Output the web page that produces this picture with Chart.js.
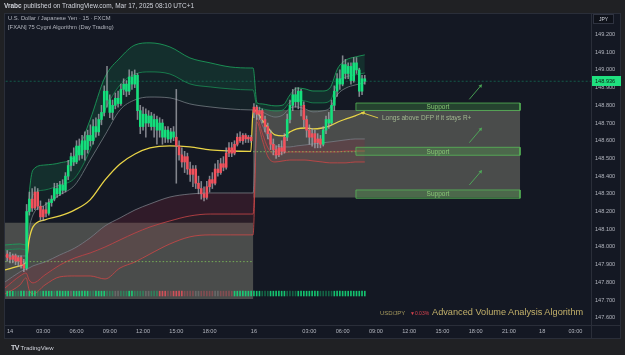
<!DOCTYPE html>
<html lang="en">
<head>
<meta charset="utf-8">
<title>USD/JPY 15m – 75 Cygni Algorithm</title>
<script src="https://cdn.jsdelivr.net/npm/chart.js@4.4.1/dist/chart.umd.min.js"></script>
<style>
  html, body { margin: 0; padding: 0; }
  body {
    width: 625px; height: 355px; position: relative; overflow: hidden;
    background: #202124;
    font-family: 'Liberation Sans', Arial, sans-serif;
  }
  #panel { position: absolute; left: 4px; top: 13px; width: 617px; height: 326px;
           background: #141823; border: 1px solid #2a2e39; box-sizing: border-box; }
  .sep   { position: absolute; background: #2a2e39; }
  #chart { position: absolute; left: 0; top: 0; }
  .txt   { position: absolute; white-space: nowrap; line-height: 1; }
</style>
</head>
<body>
<div id="panel"></div>
<div class="sep" style="left:591px;top:13px;width:1px;height:326px"></div>
<div class="sep" style="left:4px;top:325px;width:617px;height:1px"></div>
<canvas id="chart" width="625" height="355"></canvas>

<div class="txt" style="left:4px;top:3px;font-size:6.5px;color:#d1d4dc"><b>Vrabc</b> published on TradingView.com, Mar 17, 2025 08:10 UTC+1</div>
<div class="txt" style="left:8px;top:16px;font-size:5.8px;color:#b2b5be">U.S. Dollar / Japanese Yen · 15 · FXCM</div>
<div class="txt" style="left:8px;top:25px;font-size:5.8px;color:#b2b5be">[FXAN] 75 Cygni Algorithm (Day Trading)</div>
<div class="txt" style="left:593px;top:14px;width:21px;height:10px;box-sizing:border-box;border:1px solid #2f3340;background:#0f121a;color:#d1d4dc;font-size:5px;text-align:center;line-height:8px">JPY</div>
<div class="txt" style="left:380px;top:310px;font-size:6px;color:#a89b5e">USD/JPY</div>
<div class="txt" style="left:410px;top:311px;font-size:5px;color:#d9434f">▼0.03%</div>
<div class="txt" style="left:432px;top:308px;font-size:9.2px;color:#c2b06a">Advanced Volume Analysis Algorithm</div>
<div class="txt" style="left:11px;top:344px;font-size:6px;color:#d1d4dc"><b style="font-size:7px;letter-spacing:-0.5px">TV</b> TradingView</div>

<script>
'use strict';

/* ── SCALES ─────────────────────────────────────────────── */
const priceTicks = [147.6, 147.7, 147.8, 147.9, 148.0, 148.1, 148.2, 148.3,
                    148.4, 148.5, 148.6, 148.7, 148.8, 148.9, 149.0, 149.1, 149.2];
const timeTicks  = [0, 12, 24, 36, 48, 60, 72, 88, 108, 120, 132, 144, 156, 168, 180, 192, 204];
const timeLabels = ['14', '03:00', '06:00', '09:00', '12:00', '15:00', '18:00', '16',
                    '03:00', '06:00', '09:00', '12:00', '15:00', '18:00', '21:00', '18', '03:00'];

/* ── 15m CANDLES (bar index starts at -1) ────────────────── */
const FIRST_BAR = -1;
const opens = [
  147.96, 147.94, 147.93, 147.95, 147.92, 147.94, 147.90, 147.88, 148.20, 148.27,
  148.22, 148.31, 148.23, 148.17, 148.21, 148.19, 148.25, 148.27, 148.33, 148.30,
  148.35, 148.32, 148.40, 148.46, 148.51, 148.48, 148.57, 148.52, 148.60, 148.55,
  148.63, 148.60, 148.68, 148.65, 148.72, 148.76, 148.88, 148.83, 148.76, 148.80,
  148.84, 148.81, 148.89, 148.92, 148.88, 148.96, 148.92, 148.97, 148.77, 148.68,
  148.75, 148.70, 148.74, 148.68, 148.72, 148.66, 148.70, 148.62, 148.66, 148.61,
  148.65, 148.62, 148.57, 148.52, 148.48, 148.51, 148.44, 148.41, 148.44, 148.36,
  148.33, 148.30, 148.28, 148.34, 148.38, 148.36, 148.44, 148.42, 148.47, 148.45,
  148.53, 148.56, 148.53, 148.58, 148.62, 148.60, 148.63, 148.61, 148.62, 148.76,
  148.79, 148.75, 148.77, 148.72, 148.68, 148.64, 148.58, 148.55, 148.52, 148.56,
  148.54, 148.62, 148.72, 148.80, 148.86, 148.82, 148.88, 148.80, 148.72, 148.66,
  148.62, 148.64, 148.59, 148.61, 148.58, 148.66, 148.72, 148.70, 148.80, 148.88,
  148.95, 148.92, 149.03, 148.98, 149.02, 148.94, 149.04, 149.00, 148.88, 148.95
];
const highs = [
  147.98, 147.97, 147.96, 147.96, 147.95, 147.95, 147.93, 148.24, 148.31, 148.33,
  148.34, 148.33, 148.26, 148.23, 148.25, 148.27, 148.29, 148.36, 148.36, 148.37,
  148.38, 148.42, 148.49, 148.53, 148.56, 148.60, 148.61, 148.63, 148.65, 148.66,
  148.69, 148.72, 148.73, 148.75, 148.80, 148.91, 149.02, 148.86, 148.83, 148.87,
  148.88, 148.92, 148.95, 148.94, 149.00, 148.99, 149.00, 148.98, 148.80, 148.79,
  148.78, 148.77, 148.76, 148.75, 148.74, 148.73, 148.72, 148.68, 148.68, 148.67,
  148.68, 148.89, 148.60, 148.56, 148.54, 148.53, 148.48, 148.46, 148.46, 148.40,
  148.37, 148.34, 148.37, 148.40, 148.42, 148.47, 148.49, 148.50, 148.51, 148.56,
  148.59, 148.59, 148.60, 148.64, 148.65, 148.64, 148.64, 148.63, 148.63, 148.81,
  148.80, 148.79, 148.78, 148.74, 148.70, 148.66, 148.61, 148.57, 148.58, 148.60,
  148.64, 148.75, 148.83, 148.89, 148.90, 148.90, 148.89, 148.82, 148.74, 148.69,
  148.67, 148.66, 148.64, 148.63, 148.68, 148.74, 148.76, 148.83, 148.91, 148.98,
  149.00, 149.08, 149.06, 149.04, 149.04, 149.07, 149.07, 149.01, 148.97, 148.97
];
const lows = [
  147.92, 147.91, 147.91, 147.90, 147.89, 147.88, 147.86, 147.87, 148.18, 148.20,
  148.21, 148.21, 148.15, 148.15, 148.17, 148.18, 148.23, 148.26, 148.28, 148.29,
  148.30, 148.31, 148.38, 148.43, 148.46, 148.47, 148.49, 148.50, 148.49, 148.53,
  148.57, 148.58, 148.62, 148.63, 148.69, 148.74, 148.79, 148.73, 148.72, 148.78,
  148.79, 148.80, 148.86, 148.85, 148.86, 148.89, 148.90, 148.72, 148.64, 148.66,
  148.62, 148.68, 148.66, 148.62, 148.58, 148.62, 148.58, 148.59, 148.59, 148.59,
  148.60, 148.36, 148.49, 148.45, 148.42, 148.41, 148.37, 148.34, 148.33, 148.30,
  148.27, 148.26, 148.27, 148.31, 148.33, 148.35, 148.40, 148.41, 148.43, 148.44,
  148.51, 148.51, 148.52, 148.57, 148.59, 148.58, 148.59, 148.59, 148.59, 148.73,
  148.72, 148.72, 148.70, 148.65, 148.61, 148.55, 148.52, 148.50, 148.51, 148.52,
  148.53, 148.60, 148.70, 148.77, 148.79, 148.78, 148.74, 148.68, 148.62, 148.58,
  148.57, 148.56, 148.56, 148.56, 148.57, 148.64, 148.67, 148.69, 148.77, 148.85,
  148.89, 148.91, 148.95, 148.95, 148.92, 148.93, 148.98, 148.85, 148.86, 148.92
];
const closes = [
  147.94, 147.93, 147.95, 147.92, 147.94, 147.90, 147.88, 148.20, 148.27, 148.22,
  148.31, 148.23, 148.17, 148.21, 148.19, 148.25, 148.27, 148.33, 148.30, 148.35,
  148.32, 148.40, 148.46, 148.51, 148.48, 148.57, 148.52, 148.60, 148.55, 148.63,
  148.60, 148.68, 148.65, 148.72, 148.76, 148.88, 148.83, 148.76, 148.80, 148.84,
  148.81, 148.89, 148.92, 148.88, 148.96, 148.92, 148.97, 148.77, 148.68, 148.75,
  148.70, 148.74, 148.68, 148.72, 148.66, 148.70, 148.62, 148.66, 148.61, 148.65,
  148.62, 148.57, 148.52, 148.48, 148.51, 148.44, 148.41, 148.44, 148.36, 148.33,
  148.30, 148.28, 148.34, 148.38, 148.36, 148.44, 148.42, 148.47, 148.45, 148.53,
  148.56, 148.53, 148.58, 148.62, 148.60, 148.63, 148.61, 148.62, 148.60, 148.79,
  148.75, 148.77, 148.72, 148.68, 148.64, 148.58, 148.55, 148.52, 148.56, 148.54,
  148.62, 148.72, 148.80, 148.86, 148.82, 148.88, 148.80, 148.72, 148.66, 148.62,
  148.64, 148.59, 148.61, 148.58, 148.66, 148.72, 148.70, 148.80, 148.88, 148.95,
  148.92, 149.03, 148.98, 149.02, 148.94, 149.04, 149.00, 148.88, 148.95, 148.936
];
// algorithm bar colouring, run-length: [tone, bars]
const candleTrend = [['r', 7], ['g', 2], ['r', 6], ['g', 46], ['r', 40], ['g', 6], ['r', 7], ['g', 16]];
// volume strip under price: G/g green strong/weak, R/r red strong/weak, n neutral
const volumeTone = [['G', 3], ['g', 2], ['G', 2], ['n', 1], ['G', 3], ['g', 2], ['G', 4], ['g', 1],
                    ['G', 5], ['n', 1], ['G', 6], ['g', 2], ['G', 4], ['g', 3], ['n', 2], ['g', 3],
                    ['G', 2], ['g', 4], ['n', 2], ['g', 3], ['R', 3], ['r', 2], ['R', 4], ['r', 4],
                    ['n', 2], ['r', 5], ['n', 2], ['r', 5], ['G', 10], ['g', 3], ['G', 6], ['g', 4],
                    ['G', 8], ['g', 5], ['G', 12]];

/* ── SESSION VWAP + DEVIATION BANDS (sampled at bar positions) ── */
const bandBars = [-1.8, 3.6, 5.8, 6.9, 8.3, 12.6, 18.0, 23.4, 28.9, 34.3, 39.7, 45.1, 50.5, 57.7,
                  64.9, 72.2, 79.4, 86.9, 87.7, 89.1, 91.0, 93.1, 95.6, 98.5, 101.0, 103.5, 106.4,
                  109.3, 112.6, 115.4, 118.3, 121.2, 124.5, 128.0];
const vwap   = [147.870, 147.893, 147.915, 148.040, 148.113, 148.153, 148.175, 148.209, 148.266,
                148.379, 148.469, 148.525, 148.559, 148.571, 148.565, 148.548, 148.542, 148.540,
                148.774, 148.763, 148.718, 148.672, 148.633, 148.627, 148.650, 148.667, 148.672,
                148.667, 148.672, 148.684, 148.706, 148.723, 148.740, 148.763];
const upper3 = [148.011, 148.017, 148.011, 148.294, 148.435, 148.463, 148.475, 148.514, 148.718,
                148.960, 149.068, 149.141, 149.153, 149.130, 149.068, 149.040, 149.017, 149.011,
                149.011, 148.814, 148.808, 148.802, 148.797, 148.802, 148.859, 148.898, 148.893,
                148.881, 148.881, 148.898, 149.011, 149.056, 149.073, 149.085];
const upper2 = [147.983, 147.989, 147.983, 148.181, 148.294, 148.322, 148.350, 148.390, 148.548,
                148.774, 148.915, 148.977, 148.989, 148.977, 148.921, 148.904, 148.893, 148.887,
                148.887, 148.791, 148.780, 148.774, 148.768, 148.774, 148.819, 148.831, 148.825,
                148.814, 148.814, 148.825, 148.932, 148.960, 148.972, 148.983];
const upper1 = [147.949, 147.949, 147.949, 148.096, 148.181, 148.237, 148.294, 148.350, 148.491,
                148.633, 148.774, 148.831, 148.847, 148.842, 148.808, 148.791, 148.780, 148.774,
                148.774, 148.774, 148.763, 148.746, 148.734, 148.746, 148.785, 148.791, 148.780,
                148.763, 148.768, 148.785, 148.864, 148.898, 148.915, 148.927];
const lower1 = [147.802, 147.859, 147.876, 147.881, 147.893, 147.915, 147.955, 147.994, 148.051,
                148.119, 148.164, 148.209, 148.243, 148.282, 148.299, 148.305, 148.305, 148.305,
                148.305, 148.751, 148.689, 148.616, 148.576, 148.565, 148.565, 148.571, 148.576,
                148.582, 148.588, 148.593, 148.599, 148.605, 148.610, 148.610];
const lower2 = [147.768, 147.836, 147.853, 147.814, 147.797, 147.842, 147.898, 147.938, 147.966,
                148.000, 148.040, 148.079, 148.113, 148.147, 148.175, 148.186, 148.186, 148.186,
                148.186, 148.729, 148.644, 148.559, 148.520, 148.531, 148.537, 148.537, 148.537,
                148.537, 148.537, 148.537, 148.537, 148.542, 148.542, 148.542];
const lower3 = [147.734, 147.785, 147.825, 147.757, 147.734, 147.785, 147.831, 147.836, 147.836,
                147.819, 147.881, 147.915, 147.960, 148.017, 148.057, 148.068, 148.068, 148.068,
                148.068, 148.706, 148.605, 148.508, 148.480, 148.486, 148.491, 148.491, 148.491,
                148.486, 148.480, 148.475, 148.475, 148.475, 148.480, 148.480];

/* ── DRAWINGS ───────────────────────────────────────────── */
const grayZones    = [{ from: -3, to: 87.7, top: 148.136, bottom: 147.706 },
                      { from: 87.7, to: 184, top: 148.774, bottom: 148.280 }];
const supportZones = [{ from: 124.8, to: 184, top: 148.813, bottom: 148.771 },
                      { from: 124.8, to: 184, top: 148.563, bottom: 148.518 },
                      { from: 124.8, to: 184, top: 148.322, bottom: 148.275 }];
const dfpLevels    = [{ from: -3, to: 87.7, price: 147.917 },
                      { from: 87.7, to: 124.8, price: 148.538 }];
const upArrows     = [{ x0: 165.7, y0: 148.834, x1: 169.8, y1: 148.910 },
                      { x0: 165.7, y0: 148.589, x1: 169.8, y1: 148.665 },
                      { x0: 165.7, y0: 148.350, x1: 169.8, y1: 148.425 }];
const noteArrow    = { x0: 132.8, y0: 148.729, x1: 127.3, y1: 148.757 };
const noteAnchor   = { x: 134.2, y: 148.729 };
const noteText     = 'Longs above DFP if it stays R+';
const supportText  = 'Support';
const volumeBand   = [147.723, 147.750];

/* ── HELPERS ────────────────────────────────────────────── */
const expandRuns = runs => runs.flatMap(([tone, n]) => Array(n).fill(tone));
const pts = (xs, ys) => xs.map((x, i) => ({ x, y: ys[i] }));

const GREEN = '#14e07c', RED = '#f2515c', WICK = 'rgba(168,170,178,0.75)';
const toneColor = { G: 'rgba(20,224,124,0.85)', g: 'rgba(20,190,110,0.45)', n: 'rgba(140,140,140,0.45)',
                    R: 'rgba(242,81,92,0.80)', r: 'rgba(200,80,90,0.45)' };

const trend = expandRuns(candleTrend);
const vTone = expandRuns(volumeTone);
const barX  = opens.map((_, i) => i + FIRST_BAR);

const bandLine = (label, ys, color, fill, bg) => ({
  type: 'line', label, data: pts(bandBars, ys),
  borderColor: color, borderWidth: 1, pointRadius: 0,
  cubicInterpolationMode: 'monotone', fill: fill || false, backgroundColor: bg || 'transparent', order: 8
});

const zoneShape = (z, fillColor, lineColor, order) => ({
  type: 'line',
  data: [{ x: z.from, y: z.top }, { x: z.to, y: z.top }, { x: z.to, y: z.bottom },
         { x: z.from, y: z.bottom }, { x: z.from, y: z.top }],
  fill: 'shape', backgroundColor: fillColor, borderColor: lineColor, borderWidth: 1,
  pointRadius: 0, tension: 0, order
});

const arrowHeading = ctx => {
  const { x, y } = ctx.chart.scales;
  const d = ctx.dataset.data;
  const dx = x.getPixelForValue(d[1].x) - x.getPixelForValue(d[0].x);
  const dy = y.getPixelForValue(d[1].y) - y.getPixelForValue(d[0].y);
  return Math.atan2(dx, -dy) * 180 / Math.PI;
};
const arrowLine = (a, color) => ({
  type: 'line', data: [{ x: a.x0, y: a.y0 }, { x: a.x1, y: a.y1 }],
  borderColor: color, borderWidth: 1, tension: 0,
  pointRadius: [0, 2.2], pointStyle: 'triangle', pointBackgroundColor: color,
  pointBorderWidth: 0, rotation: arrowHeading, order: 1
});

/* ── DATASETS ───────────────────────────────────────────── */
const datasets = [
  // deviation bands (fill '+1' relies on this order)
  bandLine('U3', upper3, 'rgba(28,160,92,0.85)', '+1', 'rgba(20,140,85,0.20)'),
  bandLine('U2', upper2, 'rgba(28,150,88,0.75)', '+1', 'rgba(20,140,85,0.08)'),
  bandLine('U1', upper1, 'rgba(120,124,132,0.8)'),
  bandLine('L1', lower1, 'rgba(120,124,132,0.8)', '+1', 'rgba(150,40,62,0.22)'),
  bandLine('L2', lower2, 'rgba(200,72,72,0.85)', '+1', 'rgba(190,70,70,0.13)'),
  bandLine('L3', lower3, 'rgba(200,72,72,0.85)'),
  {
    type: 'line', label: 'VWAP', data: pts(bandBars, vwap), borderColor: '#e9d447', borderWidth: 1.3,
    pointRadius: 0, cubicInterpolationMode: 'monotone', fill: false, order: 6
  },
  ...grayZones.map(z => zoneShape(z, 'rgba(128,127,116,0.50)', 'transparent', 10)),
  ...dfpLevels.map(l => ({
    type: 'line', data: [{ x: l.from, y: l.price }, { x: l.to, y: l.price }],
    borderColor: 'rgba(130,200,90,0.8)', borderWidth: 1, borderDash: [1.5, 2],
    pointRadius: 0, fill: false, order: 5
  })),
  {
    type: 'line', label: 'last', data: [{ x: -3, y: closes[closes.length - 1] }, { x: 260, y: closes[closes.length - 1] }],
    borderColor: 'rgba(20,170,120,0.45)', borderWidth: 1, borderDash: [2, 2], pointRadius: 0, fill: false, order: 5
  },
  {
    type: 'bar', label: 'wick', grouped: false, order: 4, barThickness: 0.9,
    data: barX.map((x, i) => ({ x, y: [lows[i], highs[i]] })), backgroundColor: WICK
  },
  {
    type: 'bar', label: 'body', grouped: false, order: 3, barThickness: 1.9, minBarLength: 1,
    data: barX.map((x, i) => ({ x, y: [opens[i], closes[i]] })),
    backgroundColor: trend.map(t => (t === 'g' ? GREEN : RED))
  },
  {
    type: 'bar', label: 'volume', grouped: false, order: 3, barThickness: 1,
    data: barX.map(x => ({ x, y: volumeBand })),
    backgroundColor: vTone.map(t => toneColor[t] || toneColor.g)
  },
  ...supportZones.map(z => zoneShape(z, 'rgba(84,180,80,0.28)', 'rgba(90,190,90,0.75)', 2)),
  ...upArrows.map(a => arrowLine(a, 'rgba(80,180,90,0.85)')),
  arrowLine(noteArrow, 'rgba(233,212,71,0.9)')
];

/* ── TEXT ON THE CHART ──────────────────────────────────── */
const chartText = {
  id: 'chartText',
  afterDatasetsDraw(chart) {
    const { ctx, scales: { x, y } } = chart;
    ctx.save();
    ctx.font = '6.5px "Liberation Sans", Arial, sans-serif';
    ctx.textAlign = 'center';
    ctx.textBaseline = 'middle';
    ctx.fillStyle = 'rgba(140,205,120,0.95)';
    supportZones.forEach(z => {
      ctx.fillText(supportText, x.getPixelForValue((z.from + z.to) / 2), y.getPixelForValue((z.top + z.bottom) / 2) + 0.5);
    });
    ctx.textAlign = 'left';
    ctx.fillStyle = 'rgba(168,190,150,0.95)';
    ctx.fillText(noteText, x.getPixelForValue(noteAnchor.x), y.getPixelForValue(noteAnchor.y));
    ctx.restore();
  },
  afterDraw(chart) {
    // last price tag on the price axis
    const { ctx, chartArea, scales: { y } } = chart;
    const last = closes[closes.length - 1];
    const py = Math.round(y.getPixelForValue(last));
    ctx.save();
    ctx.fillStyle = '#1fe07f';
    ctx.fillRect(chartArea.right + 1, py - 5, 29, 10);
    ctx.fillStyle = '#0c1a12';
    ctx.font = '5.6px "Liberation Sans", Arial, sans-serif';
    ctx.textBaseline = 'middle';
    ctx.fillText(last.toFixed(3), chartArea.right + 4, py + 0.5);
    ctx.restore();
  }
};

/* ── CHART ──────────────────────────────────────────────── */
Chart.defaults.font.family = "'Liberation Sans', Arial, sans-serif";

new Chart(document.getElementById('chart').getContext('2d'), {
  type: 'bar',
  data: { datasets },
  plugins: [chartText],
  options: {
    responsive: false,
    animation: false,
    events: [],
    layout: { padding: { left: 5, top: 14, right: 0, bottom: 17 } },
    plugins: { legend: { display: false }, tooltip: { enabled: false } },
    scales: {
      x: {
        type: 'linear', min: -1.8, max: 209.6, offset: false,
        grid: { display: false, drawTicks: false }, border: { display: false },
        afterBuildTicks: s => { s.ticks = timeTicks.map(value => ({ value })); },
        afterFit: s => { s.height = 13; },
        ticks: {
          autoSkip: false, maxRotation: 0, padding: 3, color: '#b2b5be',
          font: { size: 5.6 }, callback: (v, i) => timeLabels[i]
        }
      },
      y: {
        position: 'right', min: 147.559, max: 149.316,
        grid: { display: false, drawTicks: false }, border: { display: false },
        afterBuildTicks: s => { s.ticks = priceTicks.map(value => ({ value })); },
        afterFit: s => { s.width = 34; },
        ticks: { padding: 4, color: '#b2b5be', font: { size: 5.6 }, callback: v => v.toFixed(3) }
      }
    }
  }
});
</script>
</body>
</html>
